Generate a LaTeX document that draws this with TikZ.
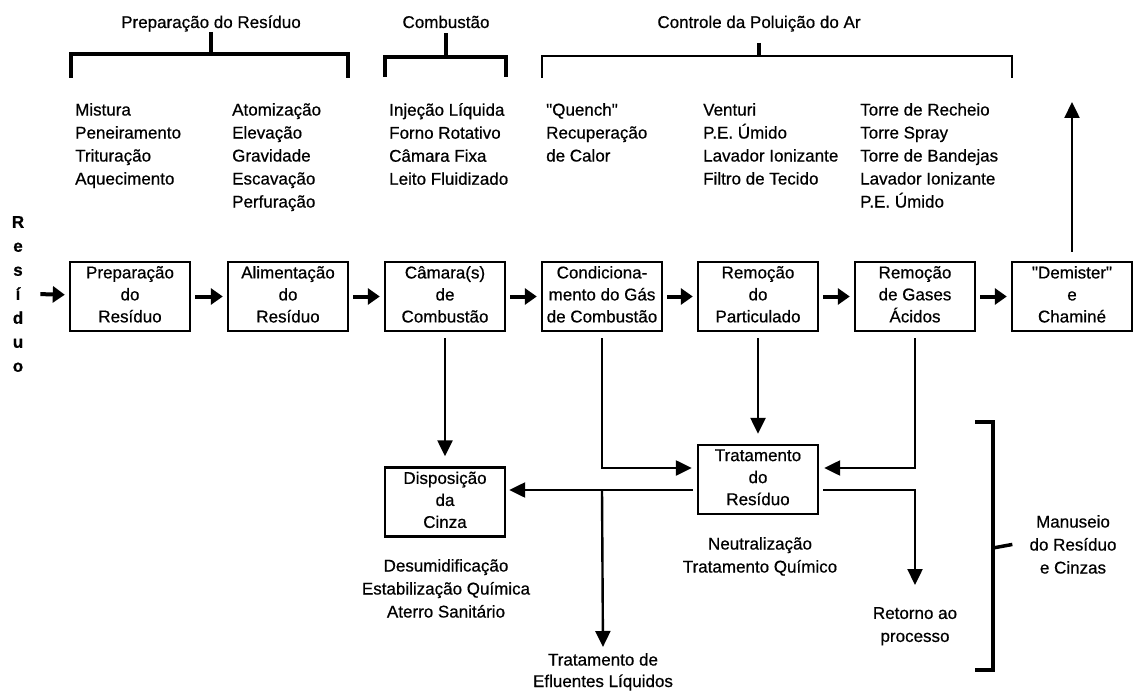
\documentclass[tikz,border=0pt]{standalone}
\usepackage{fontspec}
\setmainfont{Liberation Sans}[Ligatures=TeXOff, FakeBold=0.6]
\usetikzlibrary{arrows.meta}

\newcommand{\txtfont}{\fontsize{17}{23}\selectfont}
\newcommand{\boxfont}{\fontsize{17}{22}\selectfont}

\tikzset{
  procbox/.style={draw, line width=2.4pt, minimum width=120pt, minimum height=69pt,
    inner sep=0pt, align=center, font=\boxfont,
    execute at begin node={\rule{0pt}{13pt}},
    execute at end node={\rule[-4.5pt]{0pt}{4.5pt}}},
  grp/.style={anchor=base, inner sep=0pt, font=\txtfont},
  lst/.style={anchor=north west, align=left, inner sep=0pt, font=\txtfont,
    execute at begin node={\rule{0pt}{16pt}}},
  note/.style={anchor=north, align=center, inner sep=0pt, font=\txtfont,
    execute at begin node={\rule{0pt}{16pt}}},
  brk/.style={line width=3.5pt},
  brkthin/.style={line width=2.2pt},
  flow/.style={line width=4pt, -{Triangle[length=12pt,width=16pt]},
    shorten <=4pt, shorten >=4pt},
  feed/.style={line width=2.4pt, -{Triangle[length=16pt,width=15pt]}}
}

\begin{document}
\begin{tikzpicture}[x=1pt,y=-1pt]
\useasboundingbox (0,0) rectangle (1134,695);

\node[grp] (prepgrp) at (211,28) {Preparação do Resíduo};
\node[grp] (combgrp) at (446,28) {Combustão};
\node[grp] (ctrlgrp) at (759,28) {Controle da Poluição do Ar};

\draw[brk] (71,78) |- (348,54) -- (348,78);
\draw[brk] (prepgrp.south) -- ++(0,22.5);
\draw[brk] (385,77) |- (506,57) -- (506,77);
\draw[brk] (combgrp.south) ++(0,5) -- ++(0,24);
\draw[brkthin] (542,78) |- (1012,56) -- (1012,78);
\draw[brk] (ctrlgrp.south) ++(0,11) -- ++(0,13.5);

\node[lst] (mixlst) at (75,103) {Mistura\\Peneiramento\\Trituração\\Aquecimento};
\node[lst] (feedlst) at (232,103) {Atomização\\Elevação\\Gravidade\\Escavação\\Perfuração};
\node[lst] (comblst) at (389,103) {Injeção Líquida\\Forno Rotativo\\Câmara Fixa\\Leito Fluidizado};
\node[lst] (condlst) at (546,103) {"Quench"\\Recuperação\\de Calor};
\node[lst] (partlst) at (703,103) {Venturi\\P.E. Úmido\\Lavador Ionizante\\Filtro de Tecido};
\node[lst] (gaslst) at (860,103) {Torre de Recheio\\Torre Spray\\Torre de Bandejas\\Lavador Ionizante\\P.E. Úmido};

\node[font=\fontsize{17}{24}\selectfont\bfseries, align=center, inner sep=0pt] (res) at (18,294)
  {R\\e\\s\\í\\d\\u\\o};

\node[procbox] (prep) at (130,296.5) {Preparação\\do\\Resíduo};
\node[procbox] (alim) at (288,296.5) {Alimentação\\do\\Resíduo};
\node[procbox] (cam) at (445,296.5) {Câmara(s)\\de\\Combustão};
\node[procbox] (cond) at (602,296.5) {Condiciona-\\mento do Gás\\de Combustão};
\node[procbox] (part) at (758,296.5) {Remoção\\do\\Particulado};
\node[procbox] (gas) at (915,296.5) {Remoção\\de Gases\\Ácidos};
\node[procbox] (dem) at (1072,296.5) {"Demister"\\e\\Chaminé};

\draw[flow] ([xshift=12pt]res.east) -- (prep);
\draw[flow] (prep) -- (alim);
\draw[flow] (alim) -- (cam);
\draw[flow] (cam) -- (cond);
\draw[flow] (cond) -- (part);
\draw[flow] (part) -- (gas);
\draw[flow] (gas) -- (dem);

\coordinate (chimney) at (1072,102);
\draw[feed] ([yshift=9pt]dem.north) -- (chimney);

\node[procbox] (disp) at (445,502) {Disposição\\da\\Cinza};
\node[procbox] (trat) at (758,479.5) {Tratamento\\do\\Resíduo};

\draw[feed, shorten <=6pt, shorten >=10pt] (cam.south) -- (disp.north);
\draw[feed, shorten <=6pt, shorten >=10pt] (part.south) -- (trat.north);
\draw[feed, shorten <=6pt] (cond.south) |- ([xshift=-5pt,yshift=11.5pt]trat.west);
\draw[feed, shorten <=6pt] (gas.south) |- ([xshift=5pt,yshift=11.5pt]trat.east);

\node[note] (dry) at (446,559) {Desumidificação\\Estabilização Química\\Aterro Sanitário};
\node[note] (neut) at (760,537) {Neutralização\\Tratamento Químico};
\node[note, font=\fontsize{17}{21.5}\selectfont] (efl) at (603,653) {Tratamento de\\Efluentes Líquidos};
\node[note] (ret) at (915,607) {Retorno ao\\processo};
\node[note] (manus) at (1073,515) {Manuseio\\do Resíduo\\e Cinzas};

\coordinate (tratL) at ([xshift=-4pt,yshift=-10.5pt]trat.west);
\coordinate (tratR) at ([xshift=4pt,yshift=-10.5pt]trat.east);
\draw[feed, shorten >=3pt] (tratL) -- (tratL -| disp.east);
\draw[feed, shorten >=6pt] (tratL -| cond.south) -- (efl.north);
\draw[feed] (tratR) -| ([yshift=22pt]ret.north);

\draw[brk] (975,422) -| (993,670) -- (975,670);
\draw[brk] (993,548) -- ([xshift=-17pt]manus.west);
\end{tikzpicture}
\end{document}
